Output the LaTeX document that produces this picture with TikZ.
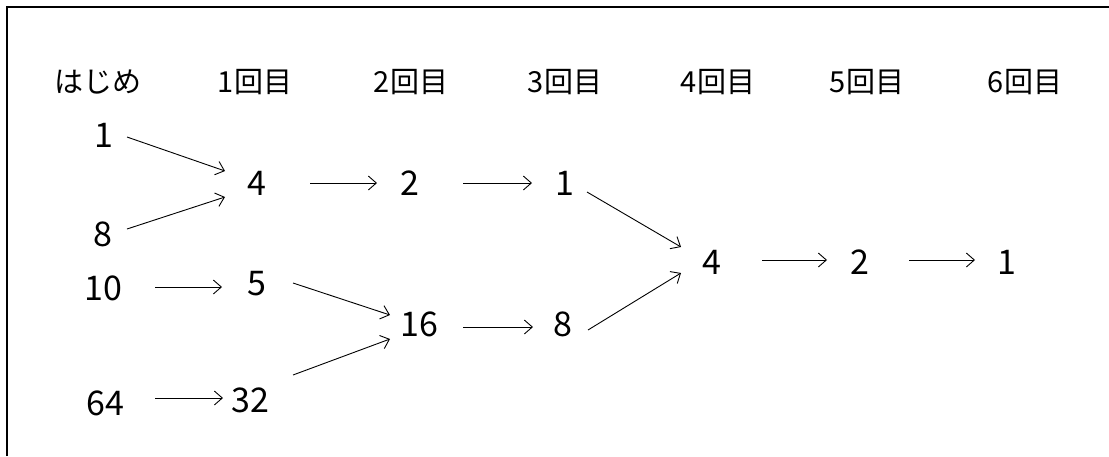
\documentclass[tikz,border=0pt]{standalone}
\usepackage{fontspec}
\setmainfont{Noto Sans CJK JP}
\usetikzlibrary{arrows.meta,calc}
\begin{document}
\begin{tikzpicture}[x=1pt,y=-1pt,
  hdr/.style={font=\fontsize{29}{32}\selectfont, inner sep=0pt},
  num/.style={font=\fontsize{34}{38}\selectfont, inner sep=0pt},
  arr/.style={-{Straight Barb[length=8pt,width=14pt]}, line width=0.9pt},
  frameline/.style={line width=2.4pt}]
\useasboundingbox (0,0) rectangle (1109,456);
\coordinate (fa) at (7,456);
\coordinate (fb) at (7,7);
\coordinate (fc) at (1109,7);
\draw[frameline] (fa) -- (fb) -- (fc);
% headers
\node[hdr] (h0) at (98,82) {はじめ};
\node[hdr] (h1) at (255,82) {1回目};
\node[hdr] (h2) at (411,82) {2回目};
\node[hdr] (h3) at (565,82) {3回目};
\node[hdr] (h4) at (718,82) {4回目};
\node[hdr] (h5) at (867,82) {5回目};
\node[hdr] (h6) at (1025,82) {6回目};
% numbers
\node[num] (a1) at (104,135) {1};
\node[num] (a8) at (103,234) {8};
\node[num] (a10) at (103,288) {10};
\node[num] (a64) at (105,403) {64};
\node[num] (b4) at (257,183) {4};
\node[num] (b5) at (257,284) {5};
\node[num] (b32) at (250,400) {32};
\node[num] (c2) at (410,183) {2};
\node[num] (c16) at (419,324) {16};
\node[num] (d1) at (565,183) {1};
\node[num] (d8) at (563,324) {8};
\node[num] (e4) at (712,262) {4};
\node[num] (f2) at (860,262) {2};
\node[num] (g1) at (1007,262) {1};
% arrows
\draw[arr] ($(a1)+(23,2)$) -- ($(b4)+(-32,-12)$);
\draw[arr] ($(a8)+(24,-5)$) -- ($(b4)+(-32,14)$);
\draw[arr] ($(b4)+(53,0)$) -- ($(c2)+(-33,0)$);
\draw[arr] ($(c2)+(53,0)$) -- ($(d1)+(-33,0)$);
\draw[arr] ($(d1)+(22,9)$) -- ($(e4)+(-31,-15)$);
\draw[arr] ($(d8)+(25,6)$) -- ($(e4)+(-31,11)$);
\draw[arr] ($(e4)+(50,-2)$) -- ($(f2)+(-33,-2)$);
\draw[arr] ($(f2)+(49,-2)$) -- ($(g1)+(-32,-2)$);
\draw[arr] ($(a10)+(52,-1)$) -- ($(b5)+(-35,3)$);
\draw[arr] ($(b5)+(36,-1)$) -- ($(c16)+(-29,-9)$);
\draw[arr] ($(b32)+(43,-25)$) -- ($(c16)+(-29,15)$);
\draw[arr] ($(a64)+(50,-5)$) -- ($(b32)+(-27,-2)$);
\draw[arr] ($(c16)+(44,3)$) -- ($(d8)+(-30,3)$);
\end{tikzpicture}
\end{document}
